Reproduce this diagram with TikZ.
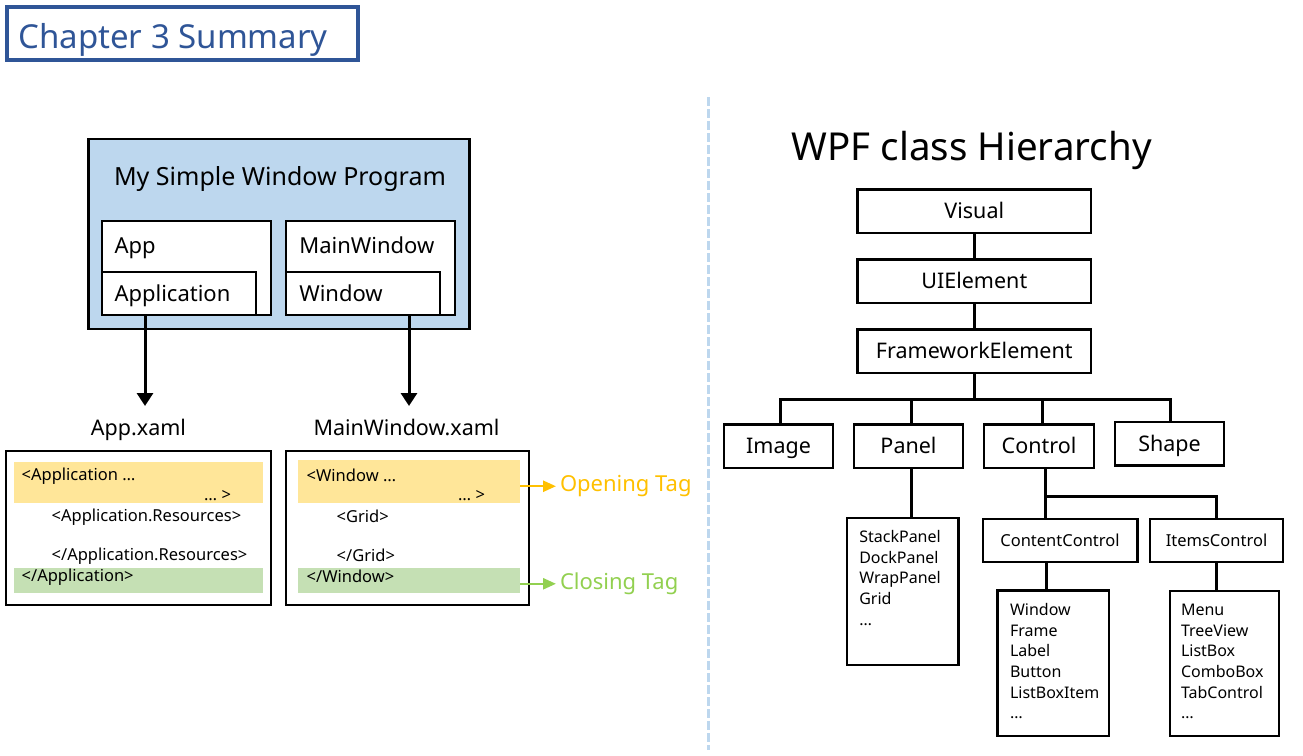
\documentclass[tikz,border=0pt]{standalone}
\usepackage{fontspec}
\setmainfont{Noto Sans}
\usetikzlibrary{arrows.meta}
\definecolor{titleblue}{HTML}{2F5597}
\definecolor{boxblue}{HTML}{BDD7EE}
\definecolor{codeyellow}{HTML}{FFE699}
\definecolor{codegreen}{HTML}{C5E0B4}
\definecolor{tagorange}{HTML}{FFC000}
\definecolor{taggreen}{HTML}{92D050}
\definecolor{dashblue}{HTML}{BDD7EE}
\newcommand\fsz[1]{\fontsize{#1}{#1}\selectfont}
\begin{document}
\begin{tikzpicture}[x=1pt,y=-1pt,
  every node/.style={inner sep=0pt, outer sep=0pt},
  rbox/.style={draw, line width=2.5pt, fill=white},
  hbox/.style={rbox, minimum height=43.5pt, font=\fsz{21.5}, text height=15.4pt, text depth=0pt},
  sbox/.style={rbox, minimum height=43pt, font=\fsz{16.5}, text height=11.8pt, text depth=0pt},
  conn/.style={line width=3pt},
  lbl/.style={anchor=base west, font=\fsz{22}},
  code/.style={anchor=base west, font=\fsz{16.5}},
  listtxt/.style={anchor=base west, font=\fsz{16}},
  arr/.style={line width=3pt, -{Triangle[length=13pt,width=16pt]}},
  tagarr/.style={line width=2.5pt, -{Triangle[length=13pt,width=11pt]}},
  band/.style={draw=none, inner sep=0pt},
  dashline/.style={dashblue, line width=2.5pt, dash pattern=on 9pt off 3pt}
]
\useasboundingbox (0,0) rectangle (1303,755);

% title
\node[draw=titleblue, line width=4pt, minimum width=351pt, minimum height=53pt] (titlebox) at (182.5,33.5) {};
\node[anchor=base west, font=\fsz{33}, text=titleblue] (title) at (18.3,48.3) {Chapter 3 Summary};

% divider
\coordinate (d1) at (708.5,97);
\coordinate (d2) at (708.5,750);
\draw[dashline] (d1) -- (d2);

% left: program box
\node[draw, line width=2.5pt, fill=boxblue, minimum width=381pt, minimum height=190pt] (prog) at (279.2,234.2) {};
\node[anchor=base, font=\fsz{25}] (progt) at (280,185) {My Simple Window Program};
\node[rbox, minimum width=169pt, minimum height=94pt] (app) at (186.4,268) {};
\node[rbox, minimum width=154pt, minimum height=43pt] (application) at (179,293.5) {};
\node[lbl] (appt) at (114.5,253.3) {App};
\node[lbl] (applicationt) at (114.5,301.7) {Application};
\node[rbox, minimum width=169pt, minimum height=94pt] (mw) at (370.5,268) {};
\node[rbox, minimum width=154pt, minimum height=43pt] (win) at (363,293.5) {};
\node[lbl] (mwt) at (299.3,253.3) {MainWindow};
\node[lbl] (wint) at (299.3,301.7) {Window};

% arrows
\coordinate (ax1) at (145,406);
\coordinate (ax2) at (409,406);
\draw[arr] (application.south -| ax1) -- (ax1);
\draw[arr] (win.south -| ax2) -- (ax2);

\node[anchor=base, font=\fsz{21.5}] (appx) at (138.5,435) {App.xaml};
\node[anchor=base, font=\fsz{21.5}] (mwx) at (406.5,435) {MainWindow.xaml};

% App.xaml code box
\node[draw, line width=2.5pt, minimum width=265pt, minimum height=154pt] (appcode) at (138.4,528) {};
\node[band, fill=codeyellow, minimum width=249pt, minimum height=41.6pt] (ay) at (138.7,482.5) {};
\node[band, fill=codegreen, minimum width=249pt, minimum height=25pt] (ag) at (138.7,580.2) {};
\node[code] (a1) at (21.7,480) {<Application …};
\node[code, anchor=base east] (a2) at (231,500) {… >};
\node[code] (a3) at (51.7,521.7) {<Application.Resources>};
\node[code] (a4) at (51.7,560) {</Application.Resources>};
\node[code] (a5) at (21.7,581.7) {</Application>};

% MainWindow.xaml code box
\node[draw, line width=2.5pt, minimum width=243pt, minimum height=154pt] (mwcode) at (407.5,528) {};
\node[band, fill=codeyellow, minimum width=222pt, minimum height=43pt] (my) at (409,481.7) {};
\node[band, fill=codegreen, minimum width=222pt, minimum height=25pt] (mg) at (409,580.2) {};
\node[code] (m1) at (306.7,481) {<Window …};
\node[code, anchor=base east] (m2) at (485,500) {… >};
\node[code] (m3) at (336.7,522) {<Grid>};
\node[code] (m4) at (336.7,561) {</Grid>};
\node[code] (m5) at (306.7,582) {</Window>};

% tags
\node[anchor=base west, font=\fsz{22}, text=tagorange] (opening) at (560,491.7) {Opening Tag};
\node[anchor=base west, font=\fsz{22}, text=taggreen] (closing) at (560,589.5) {Closing Tag};
\draw[tagarr, tagorange] (my.east |- opening.west) -- ([xshift=-4pt]opening.west);
\draw[tagarr, taggreen] (mg.east |- closing.west) -- ([xshift=-4pt]closing.west);

% right: hierarchy
\node[anchor=base west, font=\fsz{38.5}] (wpf) at (791.7,160) {WPF class Hierarchy};
\node[hbox, minimum width=233.5pt] (visual) at (974.3,211) {Visual};
\node[hbox, minimum width=233.5pt] (ui) at (974.3,281) {UIElement};
\node[hbox, minimum width=233.5pt] (fe) at (974.3,351) {FrameworkElement};
\draw[conn] (visual) -- (ui);
\draw[conn] (ui) -- (fe);

\node[hbox, minimum width=109pt] (image) at (778.5,446) {Image};
\node[hbox, minimum width=109pt] (panel) at (908.5,446) {Panel};
\node[hbox, minimum width=110pt] (control) at (1039,446) {Control};
\node[hbox, minimum width=109pt] (shape) at (1169.5,443.7) {Shape};

\draw[conn] (fe.south) -- ++(0,27) -| ([xshift=1.5pt]image.north);
\draw[conn] (fe.south) -- ++(0,27) -| ([xshift=3.3pt]panel.north);
\draw[conn] (fe.south) -- ++(0,27) -| ([xshift=3pt]control.north);
\draw[conn] (fe.south) -- ++(0,27) -| ([xshift=1.2pt]shape.north);

% Panel list
\node[rbox, minimum width=111.5pt, minimum height=147pt] (plist) at (902.5,591.5) {};
\coordinate (px) at (911.5,0);
\draw[conn] (panel.south -| px) -- (plist.north -| px);
\foreach \t [count=\i] in {StackPanel, DockPanel, WrapPanel, Grid, …}
  \node[listtxt] (p\i) at (859.3,542.7+20.6*\i-20.6) {\t};

% Control children
\node[sbox, minimum width=154.5pt] (cc) at (1060,540.5) {ContentControl};
\node[sbox, minimum width=133pt] (ic) at (1216.5,540.5) {ItemsControl};
\coordinate (cx) at (1045,0);
\draw[conn] (control.south -| cx) -- (cc.north -| cx);
\draw[conn] (control.south -| cx) ++(0,29) -| (ic.north);

\node[rbox, minimum width=111.5pt, minimum height=145.5pt] (clist) at (1053.4,663) {};
\node[rbox, minimum width=109pt, minimum height=145pt] (ilist) at (1224.5,663.5) {};
\coordinate (cx2) at (1046.7,0);
\draw[conn] (cc.south -| cx2) -- (clist.north -| cx2);
\draw[conn] (ic.south) -- (ic.south |- ilist.north);
\foreach \t [count=\i] in {Window, Frame, Label, Button, ListBoxItem, …}
  \node[listtxt] (c\i) at (1010,615.7+20.6*\i-20.6) {\t};
\foreach \t [count=\i] in {Menu, TreeView, ListBox, ComboBox, TabControl, …}
  \node[listtxt] (i\i) at (1181,615.7+20.6*\i-20.6) {\t};
\end{tikzpicture}
\end{document}
